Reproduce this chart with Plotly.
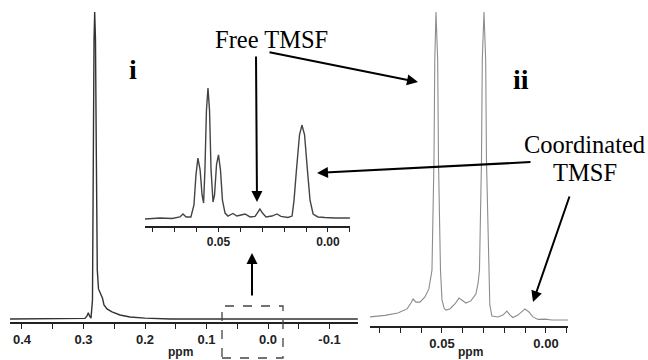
import plotly.graph_objects as go

W, H = 648, 360

# ---------------- data (ppm, relative intensity) ----------------
# Panel i : full spectrum
ppm_i = [0.4195, 0.338, 0.2976, 0.2943, 0.2922, 0.2902, 0.2878, 0.2854, 0.2842, 0.2829,
         0.2818, 0.2805, 0.2792, 0.2776, 0.2756, 0.2732, 0.2715, 0.2691, 0.2667, 0.2618,
         0.2537, 0.2407, 0.2244, 0.2000, 0.159, 0.078, 0.0569, 0.0455, 0.0098, -0.003, -0.146]
int_i = [0.0, 0.0, 0.002, 0.01, 0.02, 0.01, 0.003, 0.062, 0.55, 0.909,
         1.0, 0.909, 0.55, 0.16, 0.098, 0.085, 0.078, 0.068, 0.046, 0.033,
         0.023, 0.013, 0.0065, 0.003, 0.0, 0.0, 0.002, 0.0, 0.002, 0.0, 0.0]

# Inset : expansion of the boxed region
ppm_inset = [0.0836, 0.0767, 0.0712, 0.0676, 0.0662, 0.0648, 0.0626, 0.0612, 0.0603, 0.0594,
             0.0584, 0.0575, 0.0568, 0.0562, 0.0555, 0.0548, 0.0541, 0.0534, 0.0525, 0.0518,
             0.0509, 0.0500, 0.0491, 0.0482, 0.0470, 0.0457, 0.0434, 0.0416, 0.0397, 0.0379,
             0.0356, 0.0333, 0.0320, 0.0311, 0.0299, 0.0283, 0.0256, 0.0233, 0.0215, 0.0183,
             0.0164, 0.0155, 0.0144, 0.0130, 0.0119, 0.0107, 0.0094, 0.0082, 0.0068, 0.0046,
             0.0014, -0.0032, -0.0100]
int_inset = [-0.008, 0.0, -0.004, 0.008, 0.031, 0.008, 0.008, 0.10, 0.33, 0.46,
             0.37, 0.177, 0.115, 0.37, 0.83, 1.0, 0.83, 0.37, 0.123, 0.177,
             0.41, 0.485, 0.37, 0.138, 0.038, 0.015, 0.035, 0.015, 0.023, 0.031,
             0.008, 0.012, 0.046, 0.069, 0.038, 0.008, 0.015, 0.031, 0.012, 0.004,
             0.015, 0.138, 0.37, 0.64, 0.715, 0.64, 0.37, 0.138, 0.031, 0.008,
             0.004, 0.0, 0.0]

# Panel ii
ppm_ii = [0.0846, 0.0774, 0.0712, 0.0668, 0.0649, 0.0639, 0.0625, 0.0606, 0.0582, 0.0563,
          0.05481, 0.05385, 0.05346, 0.05288, 0.05207, 0.05168, 0.05072, 0.0500, 0.0490, 0.0481,
          0.0462, 0.0438, 0.0418, 0.0404, 0.0385, 0.0361, 0.0337, 0.0327, 0.03197, 0.03101,
          0.03062, 0.02981, 0.02899, 0.02861, 0.02764, 0.0270, 0.0260, 0.0231, 0.0207, 0.0188,
          0.0173, 0.0159, 0.0135, 0.0115, 0.0101, 0.0082, 0.0063, 0.0038, 0.0005, -0.0029,
          -0.0106]
int_ii = [0.010, 0.015, 0.023, 0.036, 0.055, 0.068, 0.058, 0.058, 0.075, 0.101,
          0.162, 0.519, 0.844, 1.0, 0.844, 0.519, 0.162, 0.065, 0.039, 0.032,
          0.036, 0.052, 0.071, 0.065, 0.055, 0.062, 0.084, 0.117, 0.162, 0.519,
          0.844, 1.0, 0.844, 0.519, 0.162, 0.049, 0.013, 0.010, 0.016, 0.029,
          0.016, 0.008, 0.016, 0.029, 0.036, 0.026, 0.010, 0.002, 0.003, 0.0,
          0.0]

ticks_i = [0.4, 0.3, 0.2, 0.1, 0.0, -0.1]
ticklabels_i = ["0.4", "0.3", "0.2", "0.1", "0.0", "-0.1"]
ticks_small = [0.05, 0.0]
ticklabels_small = ["0.05", "0.00"]


def px(x):
    return x / W


def py(y):
    return 1 - y / H


fig = go.Figure()
fig.add_trace(go.Scatter(x=ppm_i, y=int_i, mode="lines", line=dict(color="#333333", width=1.4),
                         xaxis="x", yaxis="y", hoverinfo="skip"))
fig.add_trace(go.Scatter(x=ppm_inset, y=int_inset, mode="lines", line=dict(color="#444444", width=1.4),
                         xaxis="x2", yaxis="y2", hoverinfo="skip"))
fig.add_trace(go.Scatter(x=ppm_ii, y=int_ii, mode="lines", line=dict(color="#8c8c8c", width=1.1),
                         xaxis="x3", yaxis="y3", hoverinfo="skip"))

tickfont = dict(family="Arial, Liberation Sans", size=13, color="#222222", weight="bold")


def xaxis(dom, rng, tv, tt, anchor, mdt, tl, fs):
    return dict(domain=dom, range=rng, anchor=anchor, showline=True, linecolor="#222222", linewidth=1.5,
                ticks="outside", ticklen=tl, tickwidth=1.2, tickcolor="#222222",
                tickvals=tv, ticktext=tt, showgrid=False, zeroline=False,
                tickfont=dict(tickfont, size=fs),
                minor=dict(dtick=mdt, tick0=0, ticks="outside", ticklen=tl, tickwidth=1.2,
                           tickcolor="#222222", showgrid=False))


def yaxis(dom, rng, anchor):
    return dict(domain=dom, range=rng, anchor=anchor, visible=False, showgrid=False, zeroline=False)


fig.update_layout(
    width=W, height=H, margin=dict(l=0, r=0, t=0, b=0),
    paper_bgcolor="white", plot_bgcolor="rgba(0,0,0,0)", showlegend=False,
    xaxis=xaxis([px(10), px(358)], [0.4195, -0.1463], ticks_i, ticklabels_i, "y", 0.05, 5, 13),
    yaxis=yaxis([py(322), py(8)], [-3 / 307, 311 / 307], "x"),
    xaxis2=xaxis([px(145), px(350)], [0.08356, -0.01005], ticks_small, ticklabels_small, "y2", 0.01, 4, 12),
    yaxis2=yaxis([py(226), py(84)], [-8 / 130, 134 / 130], "x2"),
    xaxis3=xaxis([px(370), px(568)], [0.0846, -0.01058], ticks_small, ticklabels_small, "y3", 0.01, 5, 13),
    yaxis3=yaxis([py(326), py(8)], [-6 / 308, 312 / 308], "x3"),
)

serif = "Times New Roman, Liberation Serif, serif"
ann = []


def text(x, y, t, size, bold=False):
    ann.append(dict(x=px(x), y=py(y), xref="paper", yref="paper", text=t, showarrow=False,
                    xanchor="center", yanchor="middle",
                    font=dict(family=serif, size=size, color="black", weight="bold" if bold else "normal")))


def arrow(x0, y0, x1, y1):
    ann.append(dict(x=px(x1), y=py(y1), xref="paper", yref="paper", ax=x0 - x1, ay=y0 - y1,
                    text="", showarrow=True, arrowhead=2, arrowsize=1.1, arrowwidth=2,
                    arrowcolor="black", standoff=0, startstandoff=0))


text(271, 39, "Free TMSF", 24.5)
text(584, 144, "Coordinated", 24.5)
text(585, 172, "TMSF", 24.5)
text(133, 70, "i", 28, bold=True)
text(521, 79, "ii", 28, bold=True)
for cx in (180, 470):
    ann.append(dict(x=px(cx), y=py(351.5), xref="paper", yref="paper", text="ppm", showarrow=False,
                    xanchor="center", yanchor="middle",
                    font=dict(family="Arial, Liberation Sans", size=12, color="#222222", weight="bold")))

arrow(256, 55, 257, 202)
arrow(268, 52, 418, 82)
arrow(532, 162, 317, 173)
arrow(570, 195, 533, 302)
arrow(252, 297, 252, 253)

fig.update_layout(annotations=ann)

fig.add_shape(type="rect", xref="paper", yref="paper", x0=px(222), x1=px(283), y0=py(358), y1=py(306),
              line=dict(color="#444444", width=1.3, dash="dash"))

fig.write_html("out.html", config={"displayModeBar": False},
               post_script="document.body.style.margin='0';document.body.style.padding='0';"
                           "document.body.style.overflow='hidden';")
